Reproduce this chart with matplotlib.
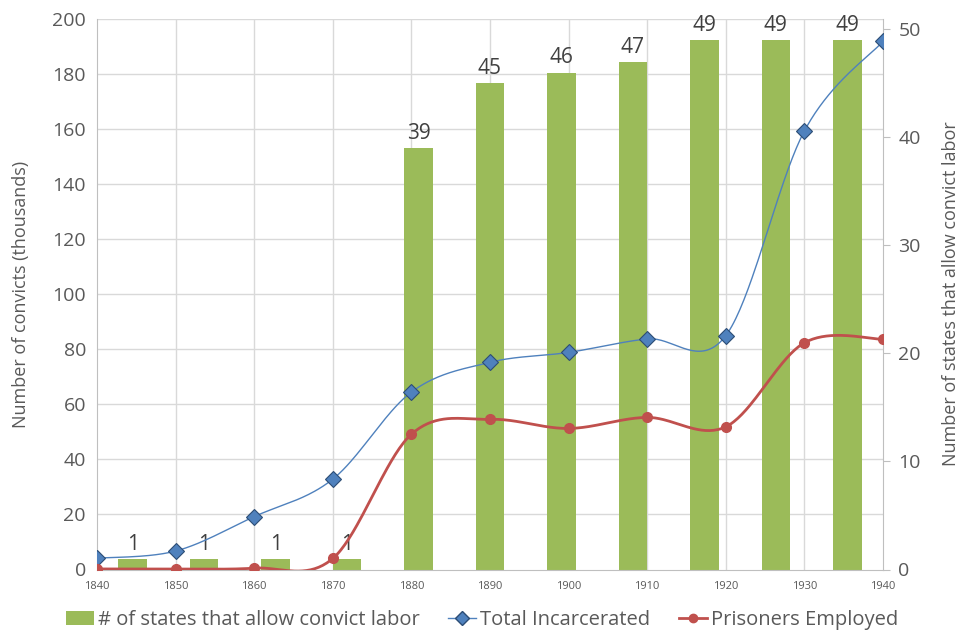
#!/usr/bin/env python3
"""Convict labor combo chart: states allowing convict labor (bars) vs convict counts (smoothed lines)."""

import matplotlib.pyplot as plt
import numpy as np
from matplotlib.lines import Line2D
from matplotlib.patches import Patch

plt.rcParams["font.family"] = ["Open Sans", "DejaVu Sans"]

years = [1840, 1850, 1860, 1870, 1880, 1890, 1900, 1910, 1920, 1930, 1940]
total_incarcerated = [4.1, 6.7, 19.2, 32.8, 64.4, 75.2, 78.8, 83.7, 84.9, 159.2, 191.7]
prisoners_employed = [0.2, 0.2, 0.5, 4.0, 49.1, 54.5, 51.2, 55.2, 51.8, 82.3, 83.6]
states_allowing = [1, 1, 1, 1, 39, 45, 46, 47, 49, 49, 49]

GREEN = "#9bbb59"
BLUE = "#4f81bd"
RED = "#c0504d"
GRID = "#d9d9d9"
AXIS = "#bfbfbf"
TEXT = "#595959"

LEFT_MAX = 200
RIGHT_MAX = 51.0  # secondary axis top sits a little above its last tick (50)


def excel_smooth(x, y, steps=40):
    """Bezier smoothing like Excel's 'smoothed line' option."""
    p = np.column_stack([x, y]).astype(float)
    n = len(p)
    out = []
    for i in range(n - 1):
        p0 = p[max(i - 1, 0)]
        p1 = p[i]
        p2 = p[i + 1]
        p3 = p[min(i + 2, n - 1)]
        c1 = p1 + (p2 - p0) / 6.0
        c2 = p2 - (p3 - p1) / 6.0
        t = np.linspace(0, 1, steps)[:, None]
        seg = (1 - t) ** 3 * p1 + 3 * (1 - t) ** 2 * t * c1 + 3 * (1 - t) * t ** 2 * c2 + t ** 3 * p2
        out.append(seg if i == 0 else seg[1:])
    pts = np.vstack(out)
    return pts[:, 0], pts[:, 1]


fig = plt.figure(figsize=(9.64, 6.33), dpi=100, facecolor="white")
rect = [97 / 964, 63.5 / 633, 786 / 964, 551 / 633]

# Bars on a category axis (secondary y on the right), drawn underneath.
ax_bar = fig.add_axes(rect, zorder=1)
cats = np.arange(len(states_allowing))
left_ticks = np.arange(0, LEFT_MAX + 1, 20)

# Gridlines follow the primary axis, so draw them here beneath the bars.
for g in left_ticks[1:]:
    ax_bar.axhline(g * RIGHT_MAX / LEFT_MAX, color=GRID, lw=1.0, zorder=0)
for xg in np.linspace(-0.5, len(cats) - 0.5, len(years))[1:-1]:
    ax_bar.axvline(xg, color=GRID, lw=1.0, zorder=0)

bars = ax_bar.bar(cats, states_allowing, width=0.4, color=GREEN, zorder=2)
ax_bar.bar_label(bars, padding=3, fontsize=15, color="#404040")
ax_bar.set_xlim(-0.5, len(cats) - 0.5)
ax_bar.set_ylim(0, RIGHT_MAX)
ax_bar.set_xticks([])
ax_bar.set_yticks(np.arange(0, 51, 10))
ax_bar.yaxis.tick_right()
ax_bar.yaxis.set_label_position("right")
ax_bar.tick_params(axis="y", length=5, color=AXIS, labelsize=14, labelcolor=TEXT, pad=6)
ax_bar.set_ylabel("Number of states that allow convict labor", fontsize=13, color=TEXT, labelpad=15)
for name, spine in ax_bar.spines.items():
    spine.set_visible(name == "right")
ax_bar.spines["right"].set_color(AXIS)

# Lines on a value axis over the bars.
ax = fig.add_axes(rect, zorder=2)
ax.patch.set_visible(False)
sx, sy = excel_smooth(years, total_incarcerated)
ax.plot(sx, sy, color=BLUE, lw=1.0, zorder=3)
ax.plot(years, total_incarcerated, ls="none", marker="D", ms=8, mfc=BLUE, mec="#2c4d75", mew=0.8, zorder=4)
sx, sy = excel_smooth(years, prisoners_employed)
ax.plot(sx, sy, color=RED, lw=2.0, zorder=3)
ax.plot(years, prisoners_employed, ls="none", marker="o", ms=7, mfc=RED, mec=RED, zorder=4)
ax.set_xlim(years[0], years[-1])
ax.set_ylim(0, LEFT_MAX)
ax.set_xticks(years)
ax.set_yticks(left_ticks)
ax.tick_params(axis="x", length=0, labelsize=8, labelcolor=TEXT, pad=8)
ax.tick_params(axis="y", length=0, labelsize=14, labelcolor=TEXT, pad=8)
ax.set_ylabel("Number of convicts (thousands)", fontsize=13, color=TEXT, labelpad=16)
for name, spine in ax.spines.items():
    spine.set_visible(name in ("left", "bottom"))
    spine.set_color(AXIS)

handles = [
    Patch(facecolor=GREEN, edgecolor="none", label="# of states that allow convict labor"),
    Line2D([], [], color=BLUE, lw=1.0, marker="D", ms=7, mfc=BLUE, mec="#2c4d75", label="Total Incarcerated"),
    Line2D([], [], color=RED, lw=2.0, marker="o", ms=6, mfc=RED, mec=RED, label="Prisoners Employed"),
]
fig.legend(
    handles=handles,
    loc="lower center",
    bbox_to_anchor=(0.5, -0.024),
    ncol=3,
    frameon=False,
    fontsize=14.5,
    labelcolor=TEXT,
    handlelength=1.4,
    handletextpad=0.2,
    columnspacing=1.4,
)

fig.savefig("out.png", dpi=100, facecolor=fig.get_facecolor())
plt.close(fig)
